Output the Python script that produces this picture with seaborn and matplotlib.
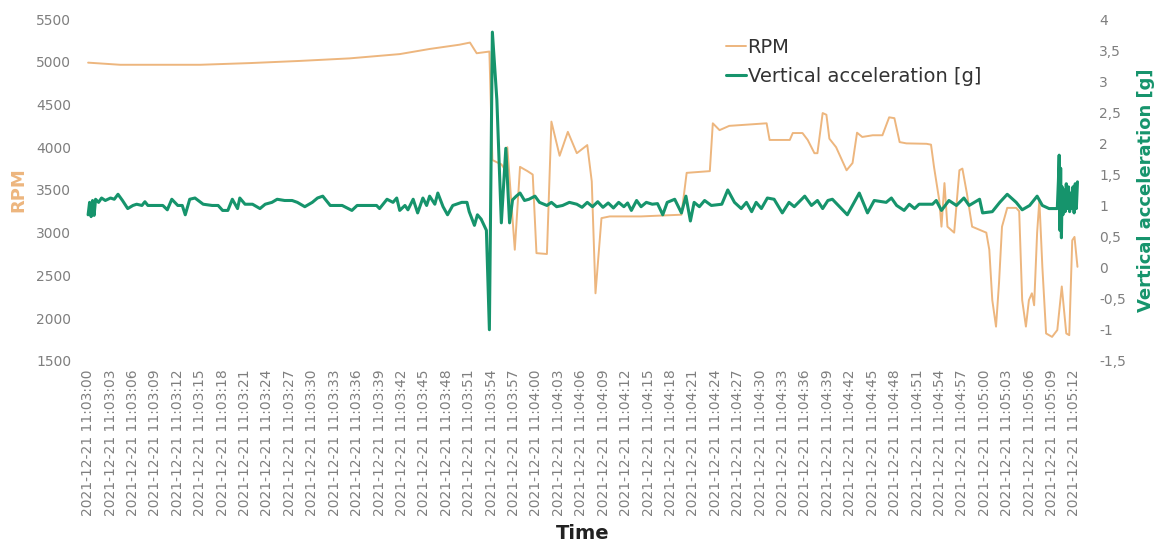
import pandas as pd
import seaborn as sns
import matplotlib.pyplot as plt
from matplotlib.lines import Line2D
from matplotlib.ticker import FuncFormatter

# RPM readings, seconds after 11:03:00
rpm_t = [0, 4.3, 15, 21.7, 28.3, 35, 41.7, 45.7, 49.7, 51.1, 52, 53.7, 54.1, 54.8, 55.3,
         55.7, 56.1, 57.1, 57.8, 58.8, 59.5, 60, 61.4, 62, 63.1, 64.2, 65.4, 66.8, 67.4,
         67.9, 68.7, 69.8, 74, 79.4, 80.1, 83.2, 83.6, 84.5, 85.8, 90.8, 91.2, 93.9, 94.3,
         95.6, 96.3, 97.2, 97.6, 98.3, 98.8, 99.2, 100.1, 101.5, 102.3, 102.9, 103.6, 105,
         106.3, 107.2, 107.9, 108.6, 109.5, 112.2, 112.8, 113.2, 113.9, 114.2, 114.6, 115,
         115.9, 116.6, 117, 117.6, 118.3, 120.2, 120.6, 121, 121.5, 121.9, 122.3, 123, 124.2,
         124.6, 125, 125.5, 125.9, 126.3, 126.6, 127, 127.3, 127.7, 128.2, 129, 129.7, 130.3,
         130.9, 131.3, 131.7, 132, 132.4]
rpm = [4990, 4965, 4965, 4985, 5010, 5040, 5090, 5150, 5200, 5225, 5100, 5120, 3850, 3820, 3800,
       3750, 4000, 2800, 3770, 3720, 3680, 2760, 2750, 4300, 3900, 4180, 3930, 4025, 3600,
       2290, 3170, 3190, 3190, 3210, 3700, 3720, 4280, 4200, 4250, 4280, 4085, 4085, 4166,
       4166, 4085, 3930, 3930, 4400, 4380, 4100, 4000, 3730, 3815, 4170, 4120, 4140,
       4140, 4350, 4340, 4060, 4045, 4040, 4030, 3770, 3380, 3070, 3580, 3070,
       3000, 3730, 3750, 3460, 3070, 3000, 2800, 2210, 1900, 2410, 3070, 3290, 3290,
       3250, 2210, 1900, 2210, 2290, 2150, 3000, 3380, 2600, 1820, 1780, 1860, 2370,
       1820, 1800, 2910, 2950, 2600]

# vertical acceleration [g], seconds after 11:03:00
acc_t = [0, 0.2, 0.4, 0.6, 0.8, 1.0, 1.4, 1.8, 2.3, 3, 3.5, 4, 4.6, 5.3, 6.0, 6.5, 7.2, 7.6, 8.0,
         9.0, 10.0, 10.6, 11.2, 12, 12.6, 13, 13.6, 14.3, 15.4, 16.6, 17.4, 18, 18.7, 19.3, 20,
         20.3, 21, 22, 23, 23.7, 24.6, 25.3, 26.3, 27.3, 28, 29, 30, 30.7, 31.4, 32.4, 34, 35.3,
         36, 38.6, 39, 40, 40.8, 41.3, 41.7, 42.4, 42.8, 43.5, 44.1, 44.8, 45.3, 45.7, 46.4,
         46.8, 47.5, 48.1, 48.8, 50, 50.7, 51, 51.7, 52.1, 52.6, 53.1, 53.3, 53.7, 54.1, 54.7,
         55.3, 55.9, 56.4, 56.8, 57.3, 57.8, 58.4, 59, 59.8, 60.4, 61.4, 62, 62.7, 63.5, 64.4,
         65.4, 66.1, 66.8, 67.5, 68.2, 68.9, 69.6, 70.3, 71, 71.7, 72.2, 72.7, 73.4, 74, 74.7,
         75.5, 76.2, 76.9, 77.5, 78.5, 79.4, 80, 80.6, 81.1, 81.8, 82.5, 83.4, 84.8, 85.6, 86.5,
         87.4, 88.1, 88.8, 89.4, 90.1, 90.9, 91.8, 92.9, 93.8, 94.5, 95.9, 96.8, 97.6, 98.3, 99,
         99.6, 100.8, 101.6, 103.2, 104.3, 105.2, 106.8, 107.5, 108.2, 109.2, 109.9, 110.6,
         111.2, 113, 113.5, 114.2, 115.2, 116.2, 117.2, 117.9, 119.3, 119.7, 121, 122, 123,
         124.2, 125, 126, 127, 127.7, 128.6, 129.7, 129.85, 129.95, 130.05, 130.15, 130.25,
         130.35, 130.45, 130.6, 130.75, 130.9, 131.05, 131.2, 131.35, 131.5, 131.65, 131.8,
         131.95, 132.1, 132.25, 132.4]
acc = [0.85, 1.05, 0.82, 1.08, 0.84, 1.1, 1.05, 1.12, 1.08, 1.12, 1.1, 1.18, 1.08, 0.95, 1.0, 1.02,
       1.0, 1.06, 1.0, 1.0, 1.0, 0.93, 1.1, 1.0, 1.0, 0.85, 1.1, 1.12, 1.02, 1.0, 1.0, 0.92, 0.92,
       1.1, 0.95, 1.12, 1.02, 1.02, 0.95, 1.02, 1.05, 1.1, 1.08, 1.08, 1.05, 0.98, 1.05, 1.12,
       1.15, 1.0, 1.0, 0.92, 1.0, 1.0, 0.95, 1.1, 1.05, 1.12, 0.92, 1.0, 0.93, 1.1, 0.88, 1.12,
       1.0, 1.15, 1.02, 1.2, 0.98, 0.85, 1.0, 1.05, 1.05, 0.9, 0.68, 0.85, 0.78, 0.65, 0.6,
       -1.0, 3.79, 2.7, 0.72, 1.92, 0.72, 1.09, 1.15, 1.2, 1.08, 1.1, 1.15, 1.05, 1.0, 1.05,
       0.98, 1.0, 1.05, 1.02, 0.97, 1.05, 0.98, 1.06, 0.97, 1.04, 0.96, 1.05, 0.98, 1.04, 0.92,
       1.08, 0.98, 1.05, 1.02, 1.03, 0.85, 1.05, 1.1, 0.88, 1.15, 0.75, 1.05, 0.98, 1.08, 1.0,
       1.02, 1.25, 1.05, 0.95, 1.05, 0.9, 1.05, 0.95, 1.12, 1.1, 0.88, 1.05, 0.98, 1.15, 1.0,
       1.08, 0.95, 1.08, 1.1, 0.95, 0.85, 1.2, 0.88, 1.08, 1.05, 1.12, 1.0, 0.92, 1.02, 0.95,
       1.02, 1.02, 1.08, 0.92, 1.08, 1.0, 1.12, 1.0, 1.1, 0.88, 0.9, 1.05, 1.18, 1.05, 0.93,
       1.0, 1.15, 1.0, 0.95, 0.95, 1.4, 1.81, 0.6, 1.6, 0.48, 1.3, 0.85, 1.25, 0.9, 1.35, 0.95,
       1.3, 0.9, 1.2, 0.95, 1.3, 0.88, 1.35, 0.95, 1.38]

tick_sec = list(range(0, 133, 3))
tick_labels = pd.date_range('2021-12-21 11:03:00', periods=len(tick_sec), freq='3s').strftime('%Y-%m-%d %H:%M:%S')

rpm_color = '#EDB67E'
acc_color = '#16946C'
grey = '#7F7F7F'

sns.set_style('white')
fig, ax = plt.subplots(figsize=(11.66, 5.45), dpi=100)
fig.subplots_adjust(left=0.073, right=0.926, top=0.965, bottom=0.338)
ax2 = ax.twinx()

sns.lineplot(x=rpm_t, y=rpm, ax=ax, color=rpm_color, linewidth=1.4, estimator=None, sort=False)
sns.lineplot(x=acc_t, y=acc, ax=ax2, color=acc_color, linewidth=2.2, estimator=None, sort=False)

ax.set_xlim(-0.4, 132.7)
ax.set_ylim(1500, 5500)
ax2.set_ylim(-1.5, 4)
ax.set_yticks(range(1500, 5501, 500))
ax2.set_yticks([-1.5 + 0.5 * i for i in range(12)])
ax2.yaxis.set_major_formatter(FuncFormatter(lambda v, p: ('%g' % v).replace('.', ',')))
ax.set_xticks(tick_sec)
ax.set_xticklabels(tick_labels, rotation=90, color=grey)

for a in (ax, ax2):
    for s in a.spines.values():
        s.set_visible(False)
    a.tick_params(length=0, labelsize=10, labelcolor=grey)
ax.tick_params(axis='y', pad=10)
ax2.tick_params(axis='y', pad=14)
ax.tick_params(axis='x', labelsize=10, pad=6)

ax.set_xlabel('Time', fontsize=14, fontweight='bold', color='#222222', labelpad=6)
ax.set_ylabel('RPM', fontsize=13, fontweight='bold', color=rpm_color, labelpad=6)
ax2.set_ylabel('Vertical acceleration [g]', fontsize=13, fontweight='bold', color=acc_color, labelpad=8)

handles = [Line2D([], [], color=rpm_color, lw=1.4), Line2D([], [], color=acc_color, lw=2.2)]
ax2.legend(handles, ['RPM', 'Vertical acceleration [g]'], loc='upper left', bbox_to_anchor=(0.627, 0.995),
           frameon=False, fontsize=14, handlelength=1.0, handletextpad=0.1, labelspacing=0.5,
           labelcolor='#333333')

fig.savefig('out.png', dpi=100)
